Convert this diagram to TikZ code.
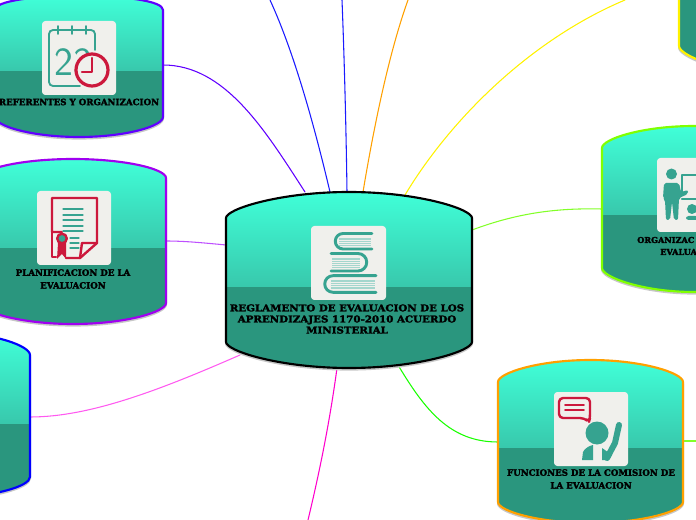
\documentclass[tikz,border=0pt]{standalone}
\usepackage{fontspec}
\newfontfamily\slabfont[BoldFeatures={FakeBold=2.4}]{DejaVu Serif}
\newfontfamily\wideslabfont[BoldFeatures={FakeBold=2.4,FakeStretch=1.1}]{DejaVu Serif}
\definecolor{tanktop}{RGB}{64,255,216}
\definecolor{tankmid}{RGB}{56,200,172}
\definecolor{tanklow}{RGB}{42,150,126}
\definecolor{cardbg}{RGB}{240,240,236}
\definecolor{iconteal}{RGB}{54,163,144}
\definecolor{iconred}{RGB}{204,24,60}
\definecolor{rimviolet}{RGB}{96,0,255}
\definecolor{rimpurple}{RGB}{160,0,240}
\definecolor{rimgreen}{RGB}{128,255,0}
\definecolor{rimorange}{RGB}{255,160,0}
\definecolor{linkblue}{RGB}{26,26,255}
\definecolor{linkpink}{RGB}{255,0,204}
\definecolor{linklight}{RGB}{255,90,240}
\definecolor{linkpurple}{RGB}{190,80,255}
\definecolor{linkgreen}{RGB}{130,255,40}
% tank: xl, xr, ytop, yside top, yside bottom, ybottom, ysplit, rim colour
\newcommand{\drawtank}[8]{%
  \pgfmathsetmacro{\xc}{(#1+#2)/2}
  \pgfmathsetmacro{\xa}{#1+0.22*(#2-#1)}
  \pgfmathsetmacro{\xb}{#2-0.22*(#2-#1)}
  \def\tankpath{(#1,#4) .. controls (#1,#4-9) and (\xa,#3) .. (\xc,#3)
    .. controls (\xb,#3) and (#2,#4-9) .. (#2,#4) -- (#2,#5)
    .. controls (#2,#5+9) and (\xb,#6) .. (\xc,#6)
    .. controls (\xa,#6) and (#1,#5+9) .. (#1,#5) -- cycle}
  \draw[black!22,line width=1.5,yshift=-1.2] \tankpath;
  \begin{scope}
    \clip \tankpath;
    \fill[top color=tanktop,bottom color=tankmid] (#1,#3) rectangle (#2,#7);
    \fill[tanklow] (#1,#7) rectangle (#2,#6);
  \end{scope}
  \draw[#8,line width=1.6] \tankpath;
}
\tikzset{
  link/.style={line width=0.8},
  card/.style={fill=cardbg,rounded corners=2.5},
  tanklabel/.style={font=\slabfont\bfseries\fontsize{6.5}{9.6}\selectfont,align=center,inner sep=0},
  cutlabel/.style={tanklabel,anchor=west,font=\slabfont\bfseries\fontsize{6.1}{9.6}\selectfont},
  teal stroke/.style={iconteal,line width=2.2},
  red stroke/.style={iconred,line width=1.8,line join=round}
}
\begin{document}
\begin{tikzpicture}[x=0.75pt,y=-0.75pt,line cap=round,line join=round]
  \useasboundingbox (0,0) rectangle (696,520);
  % connector ends
  \coordinate (regA) at (305,192);
  \coordinate (regB) at (330,192);
  \coordinate (regC) at (347,192);
  \coordinate (regD) at (363,192);
  \coordinate (regE) at (405,195);
  \coordinate (regF) at (472,230);
  \coordinate (regG) at (398,365);
  \coordinate (regH) at (337,368);
  \coordinate (regI) at (240,355);
  \coordinate (regJ) at (226,245);
  \coordinate (refR) at (163,65);
  \coordinate (plaR) at (166,241);
  \coordinate (bluR) at (30,417);
  \coordinate (orgL) at (602,209);
  \coordinate (funL) at (498,442);
  \coordinate (funR) at (683,441);
  \coordinate (offB) at (270,0);
  \coordinate (offC) at (342,0);
  \coordinate (offD) at (408,0);
  \coordinate (offE) at (625,0);
  \coordinate (offH) at (308,520);
  \coordinate (offR) at (696,441);
  \draw[link,linkblue] (regB) .. controls (313,120) and (293,50) .. (offB);
  \draw[link,linkblue] (regC) .. controls (346,120) and (344,50) .. (offC);
  \draw[link,rimorange] (regD) .. controls (375,120) and (390,50) .. (offD);
  \draw[link,yellow] (regE) .. controls (450,120) and (530,40) .. (offE);
  \draw[link,linkgreen] (regF) .. controls (520,212) and (560,208) .. (orgL);
  \draw[link,green!90!yellow] (regG) .. controls (425,410) and (450,442) .. (funL);
  \draw[link,linkgreen] (funR) -- (offR);
  \draw[link,linkpink] (regH) .. controls (330,420) and (320,470) .. (offH);
  \draw[link,linklight] (regI) .. controls (160,390) and (90,417) .. (bluR);
  \draw[link,linkpurple] (regJ) .. controls (205,243) and (185,241) .. (plaR);
  \draw[link,rimviolet] (regA) .. controls (265,130) and (225,65) .. (refR);
  % tanks
  \drawtank{226}{472}{192}{218}{342}{368}{287}{black}
  \drawtank{-5}{163}{-4}{10}{117}{137}{71}{rimviolet}
  \drawtank{-20}{166}{159}{178}{303}{324}{248}{rimpurple}
  \drawtank{-130}{30}{333}{355}{477}{497}{424}{blue}
  \drawtank{602}{786}{126}{148}{268}{292}{215}{rimgreen}
  \drawtank{498}{683}{360}{382}{502}{523}{448}{rimorange}
  \drawtank{679}{860}{-100}{-50}{46}{72}{-10}{yellow}
  % books
  \fill[card] (311,226) rectangle (386,300);
  \fill[iconteal!45] (339,238) rectangle (371,246);
  \fill[iconteal!45] (332,258) rectangle (360,268);
  \fill[iconteal!45] (331,280) rectangle (375,289);
  \foreach \pagey in {240,242,244} \draw[cardbg,line width=0.5] (339,\pagey) -- (371,\pagey);
  \foreach \pagey in {260,262,264,266} \draw[cardbg,line width=0.5] (332,\pagey) -- (360,\pagey);
  \foreach \pagey in {282,284,286} \draw[cardbg,line width=0.5] (331,\pagey) -- (375,\pagey);
  \draw[teal stroke] (372,233.5) -- (343,233.5) arc[start angle=270,end angle=90,radius=7.75] -- (372,249);
  \draw[teal stroke] (331,253.5) -- (358,253.5) arc[start angle=-90,end angle=90,radius=8.75] -- (331,271);
  \draw[teal stroke] (376,275.7) -- (333,275.7) arc[start angle=270,end angle=90,radius=8.3] -- (376,292.3);
  % calendar
  \fill[card] (42,21) rectangle (116,95);
  \draw[iconteal,line width=1.4,rounded corners=3] (95,50) -- (95,30) -- (49,30) -- (49,86) -- (80,86);
  \foreach \ringx in {58,72,86} \draw[iconteal,line width=1.4] (\ringx,26) -- (\ringx,34);
  \node[iconteal,font=\sffamily\fontsize{30}{30}\selectfont,inner sep=0] (dayno) at (73,62) {23};
  \fill[cardbg,draw=iconred,line width=2.4] (92,70) circle (16);
  \draw[iconred,line width=1.6] (92,58) -- (92,72) -- (82,72);
  % certificate
  \fill[card] (37,191) rectangle (111,265);
  \draw[red stroke] (62,232) -- (52,232) -- (52,198) -- (97,198) -- (97,243) -- (80,258) -- (66,258);
  \draw[red stroke] (52,232) -- (52,257) -- (56,257);
  \draw[red stroke] (97,243) -- (82,243) -- (80,258);
  \foreach \liney in {209,215,220,226,231} \draw[iconteal,line width=0.9] (63,\liney) -- (83,\liney);
  \foreach \liney in {238,243,248} \draw[iconteal,line width=0.9] (70,\liney) -- (79,\liney);
  \fill[iconred] (58,243) -- (57,259) -- (62,254) -- (66,259) -- (66,243) -- cycle;
  \fill[iconteal,draw=iconred,line width=1.8] (62,238.5) circle (4.8);
  % teacher
  \fill[card] (657,158) rectangle (730,232);
  \fill[iconteal] (671.5,174) circle (5.5);
  \fill[iconteal,rounded corners=1.5] (664,183) -- (679,183) -- (681,192) -- (688,190) -- (688,194) -- (679,198) -- (678,220) -- (674,220) -- (672,202) -- (670,220) -- (666,220) -- (665,200) -- (663,198) -- cycle;
  \draw[iconteal,line width=1.8] (682,193) -- (682,175) -- (700,175) (682,199) -- (700,199);
  \fill[iconteal] (692,209) circle (5);
  \fill[iconteal,rounded corners=2] (686,220) -- (686,216) -- (698,216) -- (698,220) -- cycle;
  % speaker
  \fill[card] (554,392) rectangle (628,466);
  \draw[red stroke,fill=cardbg,rounded corners=3] (559,398) -- (590,398) -- (590,418) -- (589,422) -- (584,418) -- (559,418) -- cycle;
  \draw[iconred,line width=1.2] (565,405) -- (584,405) (565,410) -- (584,410);
  \fill[iconteal] (597,433) circle (11.5);
  \draw[iconteal,line width=4.5] (619,425) -- (615,443) -- (607,458);
  \fill[iconteal] (582,460) -- (583,452) .. controls (585,448) and (589,446) .. (593,445) -- (593,460) -- cycle;
  \fill[iconteal] (602,460) -- (602,448) -- (612,455) -- (609,460) -- cycle;
  % labels
  \node[tanklabel,font=\wideslabfont\bfseries\fontsize{7}{8.3}\selectfont] (reglamento) at (347,319) {REGLAMENTO DE EVALUACION DE LOS\\APRENDIZAJES 1170-2010 ACUERDO\\MINISTERIAL};
  \node[tanklabel] (referentes) at (79,102) {REFERENTES Y ORGANIZACION};
  \node[tanklabel] (planificacion) at (73,279) {PLANIFICACION DE LA\\EVALUACION};
  \node[cutlabel] (organizacion) at (637,240) {ORGANIZAC};
  \node[cutlabel] (evaluacion) at (660,252) {EVALUA};
  \node[tanklabel] (funciones) at (591,479) {FUNCIONES DE LA COMISION DE\\LA EVALUACION};
\end{tikzpicture}
\end{document}
